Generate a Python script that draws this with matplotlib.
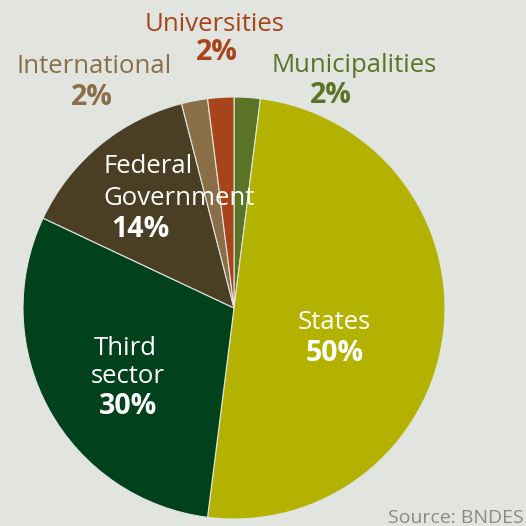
import matplotlib
matplotlib.use("Agg")
import matplotlib.pyplot as plt

categories = ["Municipalities", "States", "Third sector", "Federal Government", "International", "Universities"]
values = [2, 50, 30, 14, 2, 2]
colors = ["#5a7326", "#b3b200", "#01411c", "#4a3f24", "#8a6e47", "#a8441a"]
bg = "#e1e4df"

W = H = 526
fig = plt.figure(figsize=(5.26, 5.26), dpi=100, facecolor=bg)
ax = fig.add_axes([0, 0, 1, 1])
ax.set_facecolor(bg)

cx, cy, r = 234, H - 308, 211
ax.pie(values, colors=colors, startangle=90, counterclock=False,
       center=(cx, cy), radius=r, frame=True,
       wedgeprops=dict(edgecolor=bg, linewidth=0.8))
ax.set_xlim(0, W)
ax.set_ylim(0, H)
ax.set_aspect("equal")
ax.axis("off")

plt.rcParams["font.family"] = ["Open Sans", "DejaVu Sans"]

def t(x, y, s, color, size, weight="normal", ha="center"):
    ax.text(x, H - y, s, color=color, fontsize=size, fontweight=weight,
            ha=ha, va="baseline")

fs = 18.5
fb = 20.5
# outside labels
t(215, 31, "Universities", colors[5], fs)
t(217, 60, f"{values[5]}%", colors[5], fb, "bold")
t(94, 73, "International", colors[4], fs)
t(92, 105, f"{values[4]}%", colors[4], fb, "bold")
t(354, 72, "Municipalities", colors[0], fs)
t(331, 103, f"{values[0]}%", colors[0], fb, "bold")

# inside labels
t(334, 329, "States", "white", fs)
t(335, 361, f"{values[1]}%", "white", fb, "bold")
t(125, 355, "Third", "white", fs)
t(128, 383, "sector", "white", fs)
t(128, 414, f"{values[2]}%", "white", fb, "bold")
t(103, 173, "Federal", "white", fs, ha="left")
t(103, 205, "Government", "white", fs, ha="left")
t(111, 237, f"{values[3]}%", "white", fb, "bold", ha="left")

ax.text(524, H - 523, "Source: BNDES", color="#8a8a8a", fontsize=14,
        ha="right", va="baseline")

fig.savefig("out.png", dpi=100, facecolor=bg)
